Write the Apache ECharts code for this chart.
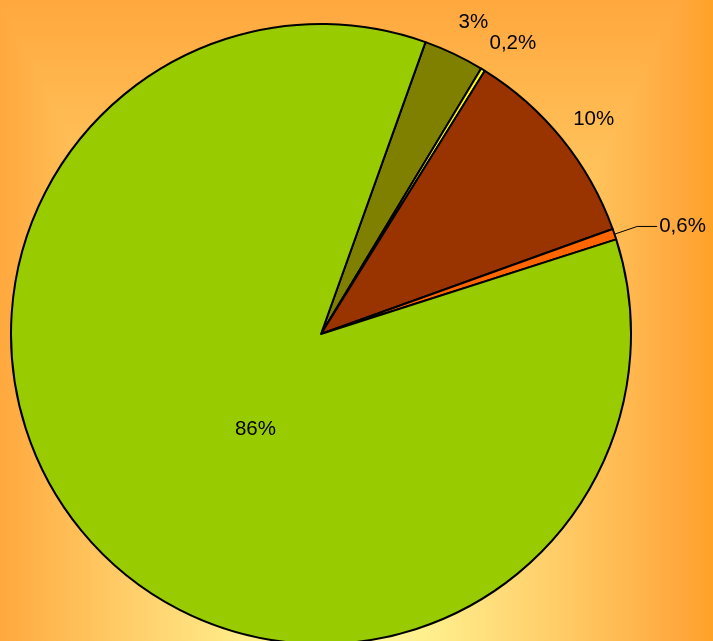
<!DOCTYPE html>
<html>
<head>
<meta charset="utf-8">
<script src="https://cdn.jsdelivr.net/npm/echarts@6/dist/echarts.min.js"></script>
<style>
  html, body { margin: 0; padding: 0; }
  #chart { width: 713px; height: 641px; }
</style>
</head>
<body>
<div id="chart"></div>
<script>
// slices, clockwise from the olive one
var names = ['B', 'C', 'D', 'E', 'A'];
var values = [3.17, 0.22, 10.64, 0.56, 85.41];
var labels = ['3%', '0,2%', '10%', '0,6%', '86%'];
var colors = ['#808000', '#ffff00', '#993300', '#ff6600', '#99cc00'];

// small nudges of the label text (px)
var nudges = [[3, 3], [10, 6], [2, 4], [0, 0], [48, -14]];

// background: rectangular gradient, orange at the edges, pale yellow inside
var bgStops = [
    [0, '#ffa83e'],
    [0.15, '#ffb84f'],
    [0.4, '#ffd06c'],
    [0.73, '#ffee8c'],
    [1, '#fffa9c']
];
// shift = share of the gradient box that is plain edge colour
function stops(shift, outer) {
    var list = [];
    if (shift > 0) list.push({offset: 0, color: outer});
    bgStops.forEach(function (s) {
        list.push({offset: shift + s[0] * (1 - shift), color: s[1]});
    });
    return list;
}

var chart = echarts.init(document.getElementById('chart'));

chart.setOption({
    animation: false,
    backgroundColor: '#ffa83e',
    graphic: [
        {
            type: 'rect', z: -12, silent: true,
            shape: {x: 0, y: 0, width: 341, height: 1354},
            style: {fill: {type: 'linear', x: 0, y: 0, x2: 1, y2: 0, colorStops: stops(0)}}
        },
        {
            type: 'rect', z: -12, silent: true,
            shape: {x: 340, y: 0, width: 373, height: 1354},
            style: {fill: {type: 'linear', x: 1, y: 0, x2: 0, y2: 0, colorStops: stops(0.088, '#ffa226')}}
        },
        {
            type: 'polygon', z: -11, silent: true,
            shape: {points: [[0, 0], [680, 0], [340, 677]]},
            style: {fill: {type: 'linear', x: 0, y: 0, x2: 0, y2: 1, colorStops: stops(0)}}
        }
    ],
    series: [{
        type: 'pie',
        center: [321, 334],
        radius: 310,
        startAngle: 70.3,
        clockwise: true,
        avoidLabelOverlap: false,
        emphasis: {disabled: true},
        itemStyle: {
            borderColor: '#000',
            borderWidth: 2
        },
        label: {
            show: true,
            position: 'outside',
            color: '#000',
            fontFamily: 'Liberation Sans',
            fontSize: 20.5,
            bleedMargin: 0,
            distanceToLabelLine: 0,
            formatter: function (p) {
                return labels[p.dataIndex];
            }
        },
        labelLine: {
            show: false,
            length: 38,
            length2: 0
        },
        labelLayout: function (p) {
            var n = nudges[p.dataIndex];
            if (p.dataIndex === 3) return {};
            return {align: 'center', verticalAlign: 'middle', dx: n[0], dy: n[1]};
        },
        data: names.map(function (n, i) {
            var item = {
                name: n,
                value: values[i],
                itemStyle: {color: colors[i]}
            };
            if (i === 3) {
                item.label = {distanceToLabelLine: 2};
                item.labelLine = {
                    show: true, length: 24, length2: 20,
                    lineStyle: {color: '#000', width: 1}
                };
            }
            if (i === 4) {
                item.label = {position: 'inside'};
            }
            return item;
        })
    }]
});
</script>
</body>
</html>
